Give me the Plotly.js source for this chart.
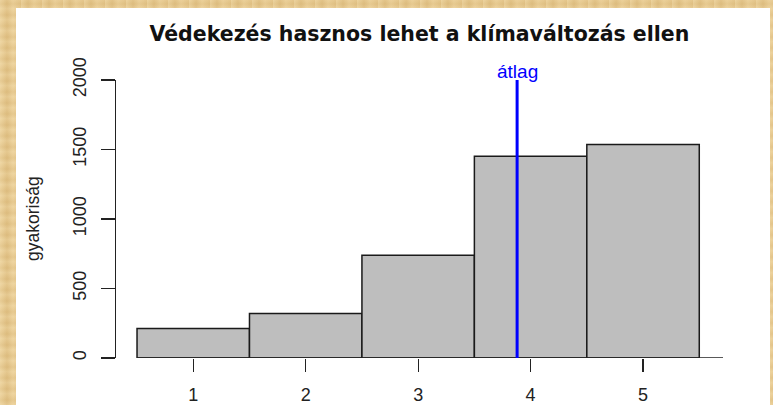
<!DOCTYPE html>
<html>
<head>
<meta charset="utf-8">
<script src="https://cdn.plot.ly/plotly-3.0.1.min.js"></script>
<style>
html,body{margin:0;padding:0;}
body{width:773px;height:405px;overflow:hidden;position:relative;
background:
 repeating-linear-gradient(90deg, rgba(255,240,200,0.25) 0px, rgba(200,160,90,0.18) 7px, rgba(255,235,190,0.2) 13px, rgba(210,170,100,0.15) 21px),
 repeating-linear-gradient(0deg, rgba(255,245,210,0.2) 0px, rgba(190,150,80,0.15) 5px, rgba(255,240,200,0.18) 11px),
 #e6c88e;}
#panel{position:absolute;left:16px;top:8px;width:754px;height:400px;background:#ffffff;}
#chart{position:absolute;left:0;top:0;width:773px;height:405px;}
</style>
</head>
<body>
<div id="panel"></div>
<div id="chart"></div>
<script>
var categories = [1, 2, 3, 4, 5];
var counts = [212, 320, 739, 1452, 1536];
var meanValue = 3.88;
var yTicks = [0, 500, 1000, 1500, 2000];
var titleText = "Védekezés hasznos lehet a klímaváltozás ellen";
var yTitle = "gyakoriság";
var meanLabel = "átlag";

var trace = {
  type: 'bar',
  x: categories,
  y: counts,
  width: 1,
  marker: {color: '#bebebe', line: {color: '#1a1a1a', width: 1.5}},
  hoverinfo: 'x+y'
};

var layout = {
  width: 773, height: 405,
  margin: {l: 116, r: 50, t: 80, b: 47.3, pad: 0},
  paper_bgcolor: 'rgba(0,0,0,0)',
  plot_bgcolor: 'rgba(0,0,0,0)',
  showlegend: false,
  bargap: 0,
  font: {family: 'Liberation Sans, Arial, sans-serif', size: 18, color: '#222'},
  title: {
    text: '<b>' + titleText + '</b>',
    font: {family: 'DejaVu Sans, Verdana, sans-serif', size: 20.5, color: '#111'},
    x: 0.5425, xref: 'container', xanchor: 'center',
    y: 1 - 34/405, yref: 'container', yanchor: 'middle'
  },
  xaxis: {
    range: [0.313, 5.711],
    tickvals: categories,
    ticktext: categories.map(String),
    ticks: 'outside', ticklen: 13, tickwidth: 1.3, tickcolor: '#222',
    ticklabelstandoff: 7,
    tickfont: {size: 18, color: '#222'},
    showline: false, showgrid: false, zeroline: false,
    fixedrange: true
  },
  yaxis: {
    range: [0, 2000],
    tickvals: yTicks,
    ticktext: yTicks.map(String),
    tickangle: -90,
    ticks: 'outside', ticklen: 14, tickwidth: 1.3, tickcolor: '#222',
    ticklabelstandoff: 8,
    tickfont: {size: 18, color: '#222'},
    showline: true, linecolor: '#222', linewidth: 1.3,
    showgrid: false, zeroline: false,
    fixedrange: true
  },
  shapes: [
    {type: 'line', xref: 'x', yref: 'y', x0: 0.5, x1: 5.711, y0: 0, y1: 0,
     line: {color: '#222', width: 1.3}, layer: 'above'},
    {type: 'line', xref: 'x', yref: 'y', x0: meanValue, x1: meanValue, y0: 0, y1: 2000,
     line: {color: '#0000ff', width: 3}, layer: 'above'}
  ],
  annotations: [
    {text: yTitle, xref: 'paper', yref: 'paper', x: (33 - 116) / 607, y: 0.5,
     xanchor: 'center', yanchor: 'middle', textangle: -90, showarrow: false,
     font: {family: 'Liberation Sans, Arial, sans-serif', size: 17.5, color: '#222'}},
    {text: meanLabel, xref: 'x', yref: 'y', x: meanValue, y: 2000,
     xanchor: 'center', yanchor: 'bottom', yshift: -4, showarrow: false,
     font: {family: 'Liberation Sans, Arial, sans-serif', size: 19, color: '#0000ff'}}
  ]
};

Plotly.newPlot('chart', [trace], layout, {staticPlot: true, displayModeBar: false});
</script>
</body>
</html>
